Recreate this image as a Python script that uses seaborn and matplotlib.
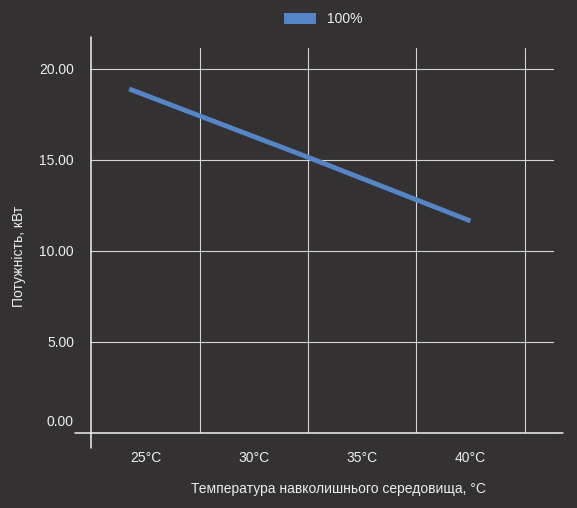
import matplotlib
matplotlib.use("Agg")
import matplotlib.pyplot as plt
import matplotlib.transforms as mtransforms
from matplotlib.lines import Line2D
from matplotlib.patches import Patch
from matplotlib.ticker import FixedLocator
import pandas as pd
import seaborn as sns

# data
temp_c = [24.25, 32.5, 40.0]
power_kw = [18.9, 15.15, 11.65]
series_name = "100%"
temp_ticks = [25, 30, 35, 40]
temp_labels = ["25°C", "30°C", "35°C", "40°C"]
power_ticks = [0, 5, 10, 15, 20]

bg = "#333132"
fg = "#eeeeee"
grid_c = "#d4d4d4"
line_c = "#5585c6"

sns.set_theme(style="dark", rc={
    "figure.facecolor": bg,
    "axes.facecolor": bg,
    "savefig.facecolor": bg,
    "text.color": fg,
    "xtick.color": fg,
    "ytick.color": fg,
    "axes.labelcolor": fg,
})
plt.rcParams["font.family"] = ["Liberation Sans", "DejaVu Sans"]

df = pd.DataFrame({"temp": temp_c, "power": power_kw, "series": series_name})

fig = plt.figure(figsize=(5.77, 5.08), dpi=100)
ax = fig.add_axes([91.3 / 577, 75 / 508, 462.7 / 577, 385 / 508])

sns.lineplot(data=df, x="temp", y="power", ax=ax, color=line_c,
             linewidth=3.5, legend=False, solid_capstyle="butt")

ax.set_xlim(22.5, 43.86)
ax.set_ylim(0, 21.15)

for s in ax.spines.values():
    s.set_visible(False)

# vertical grid between categories, horizontal grid on value ticks
ax.xaxis.set_major_locator(FixedLocator(temp_ticks))
ax.set_xticklabels(temp_labels)
ax.xaxis.set_minor_locator(FixedLocator([27.5, 32.5, 37.5, 42.5]))
ax.set_yticks(power_ticks)
ax.set_yticklabels([f"{v:.2f}" for v in power_ticks])
ax.grid(False)
ax.grid(True, axis="x", which="minor", color=grid_c, linewidth=0.8)
ax.grid(True, axis="y", which="major", color=grid_c, linewidth=0.8)
ax.tick_params(axis="x", which="both", length=0, pad=13, labelsize=10)
ax.tick_params(axis="y", length=2.5, width=0.8, color=grid_c, pad=10, labelsize=10)

# "0.00" sits above its line in the reference
zero_lbl = ax.get_yticklabels()[0]
zero_lbl.set_transform(zero_lbl.get_transform()
                       + mtransforms.ScaledTranslation(0, 13 / 100, fig.dpi_scale_trans))

# extended axis lines
ax.add_line(Line2D([0, 0], [-0.039, 1.0286], transform=ax.transAxes,
                   color="#f2f2f2", linewidth=1.1, clip_on=False))
ax.add_line(Line2D([-0.035, 1.019], [0, 0], transform=ax.transAxes,
                   color="#f2f2f2", linewidth=1.1, clip_on=False))

ax.set_xlabel("Температура навколишнього середовища, °C", fontsize=10)
ax.xaxis.set_label_coords(0.535, -0.127)
ax.set_ylabel("Потужність, кВт", fontsize=10)
ax.yaxis.set_label_coords(-0.141, 0.46)

fig.legend(handles=[Patch(facecolor=line_c, edgecolor="none", label=series_name)],
           loc="center", bbox_to_anchor=(323 / 577, 1 - 19 / 508),
           frameon=False, fontsize=10, handlelength=2.3, handleheight=0.85,
           handletextpad=0.8, labelcolor=fg)

fig.savefig("out.png", dpi=100)
